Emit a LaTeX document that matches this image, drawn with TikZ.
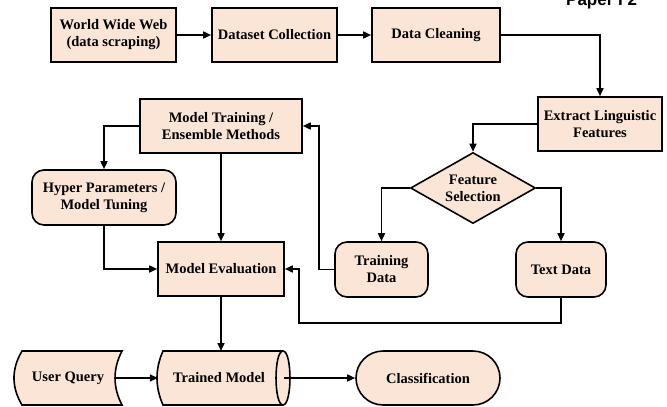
\documentclass[tikz,border=0pt]{standalone}
\usepackage{fontspec}
\setmainfont{Liberation Serif}
\newfontfamily\hdrfont{Liberation Sans}
\usetikzlibrary{arrows.meta,shapes.geometric}
\definecolor{peach}{HTML}{FBE5D6}
\tikzset{
  every picture/.style={x=1pt,y=-1pt},
  lbl/.style={font=\fontsize{14.5}{17}\selectfont\bfseries, align=center, inner sep=0pt},
  sqbox/.style={lbl, draw, fill=peach, line width=1.6pt, rectangle},
  rbox/.style={sqbox, rounded corners=12pt},
  flow/.style={line width=1.6pt, -{Triangle[length=8pt,width=7pt]}},
  plain/.style={line width=1.6pt}
}
\begin{document}
\begin{tikzpicture}
\useasboundingbox (0,0) rectangle (667,407);
% header fragment
\node[anchor=base west, inner sep=0pt, font=\hdrfont\bfseries\fontsize{17}{20}\selectfont] (hdr) at (566,5) {Paper I 2};

% top row
\node[sqbox, minimum width=125pt, minimum height=54pt] (www) at (113.5,35) {World Wide Web\\(data scraping)};
\node[sqbox, minimum width=125pt, minimum height=54pt] (dc) at (274.5,35) {Dataset Collection};
\node[sqbox, minimum width=128pt, minimum height=54pt] (clean) at (436,35) {Data Cleaning};
\node[sqbox, minimum width=124pt, minimum height=54pt] (extract) at (600,124) {Extract Linguistic\\Features};
\node[sqbox, minimum width=162pt, minimum height=54pt] (mt) at (221,126) {Model Training /\\Ensemble Methods};
\node[rbox, minimum width=144pt, minimum height=55pt] (hyper) at (104,197.5) {Hyper Parameters /\\Model Tuning};
\node[sqbox, minimum width=126pt, minimum height=54pt] (eval) at (221,269) {Model Evaluation};
\node[lbl, draw, fill=peach, line width=1.6pt, diamond, aspect=1.76, minimum width=125pt, minimum height=71pt] (fs) at (473,188) {Feature\\Selection};
\node[rbox, minimum width=93pt, minimum height=55pt] (train) at (381.5,269.5) {Training\\Data};
\node[rbox, minimum width=90pt, minimum height=55pt] (text) at (561,269.5) {Text Data};

% bottom row shapes
\draw[plain, fill=peach] (22,351) -- (122,351) .. controls (112.7,369) and (112.7,387) .. (122,405)
  -- (22,405) .. controls (11.3,387) and (11.3,369) .. (22,351) -- cycle;
\node[lbl, minimum width=95pt, minimum height=54pt] (uq) at (68,378) {User Query};
\draw[plain, fill=peach] (163,351) -- (283,351) .. controls (292.3,351) and (292.3,405) .. (283,405)
  -- (163,405) .. controls (155,387) and (155,369) .. (163,351) -- cycle;
\draw[plain] (283,351) .. controls (273.7,351) and (273.7,405) .. (283,405);
\node[lbl, minimum width=122pt, minimum height=54pt] (tm) at (219,378) {Trained Model};
\coordinate (tmr) at (284,378);
\node[sqbox, rounded corners=27pt, minimum width=144pt, minimum height=54pt] (cls) at (428,378) {Classification};

% connectors
\draw[flow] (www.east) -- (dc.west);
\draw[flow] (dc.east) -- (clean.west);
\draw[flow] (clean.east) -| (extract.north);
\draw[flow] (extract.west) -| (fs.north);
\draw[flow] (fs.west) -| (train.north);
\draw[flow] (fs.east) -| (text.north);
\coordinate (tl) at (319,269.5);
\draw[flow] (train.west) -- (tl) |- (mt.east);
\draw[flow] (mt.west) -| (hyper.north);
\draw[flow] (mt.south) -- (eval.north);
\draw[flow] (hyper.south) |- (eval.west);
\coordinate (bt) at (561,323);
\coordinate (bl) at (299,323);
\draw[flow] (text.south) -- (bt) -- (bl) |- (eval.east);
\coordinate (tmtop) at (221,351);
\draw[flow] (eval.south) -- (tmtop);
\draw[flow] (uq.east) -- (tm.west);
\draw[flow] (tmr) -- (cls.west);
\end{tikzpicture}
\end{document}
